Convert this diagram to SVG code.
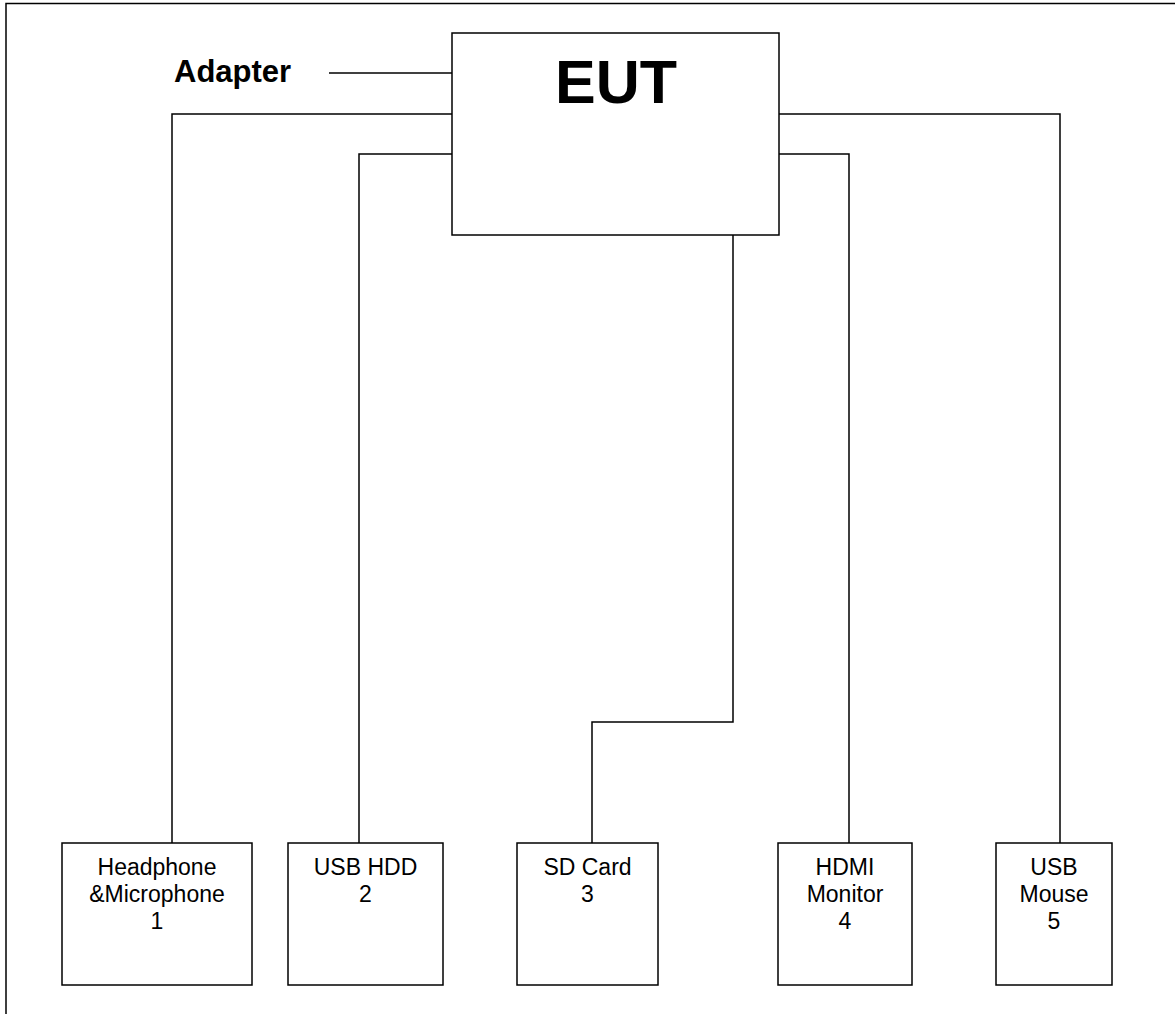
<svg xmlns="http://www.w3.org/2000/svg" width="1175" height="1014" viewBox="0 0 1175 1014">
<style>
.box{fill:#fff;stroke:#000;stroke-width:1.5}
.wire{fill:none;stroke:#000;stroke-width:1.5}
.lbl{font-family:"Liberation Sans",Arial,sans-serif;font-size:23px;fill:#000;text-anchor:middle}
.bold{font-family:"Liberation Sans",Arial,sans-serif;font-weight:bold;fill:#000}
</style>
<rect width="1175" height="1014" fill="#fff"/>
<g id="frame">
<path class="wire" d="M1175,3.5 H6 V1014"/>
</g>
<g id="connectors">
<path class="wire" d="M329,73 H452"/>
<path class="wire" d="M452,114 H172 V843"/>
<path class="wire" d="M452,154 H359 V843"/>
<path class="wire" d="M733,235 V722 H592 V843"/>
<path class="wire" d="M779,154 H849 V843"/>
<path class="wire" d="M779,114 H1060 V843"/>
</g>
<g id="adapter">
<text class="bold" x="174" y="82" font-size="31">Adapter</text>
</g>
<g id="eut">
<rect class="box" x="452" y="33" width="327" height="202"/>
<text class="bold" x="616" y="103" font-size="61" text-anchor="middle">EUT</text>
</g>
<g id="node1">
<rect class="box" x="62" y="843" width="190" height="142"/>
<text class="lbl" x="157" y="875">Headphone</text>
<text class="lbl" x="157" y="902">&amp;Microphone</text>
<text class="lbl" x="157" y="929">1</text>
</g>
<g id="node2">
<rect class="box" x="288" y="843" width="155" height="142"/>
<text class="lbl" x="365.5" y="875">USB HDD</text>
<text class="lbl" x="365.5" y="902">2</text>
</g>
<g id="node3">
<rect class="box" x="517" y="843" width="141" height="142"/>
<text class="lbl" x="587.5" y="875">SD Card</text>
<text class="lbl" x="587.5" y="902">3</text>
</g>
<g id="node4">
<rect class="box" x="778" y="843" width="134" height="142"/>
<text class="lbl" x="845" y="875">HDMI</text>
<text class="lbl" x="845" y="902">Monitor</text>
<text class="lbl" x="845" y="929">4</text>
</g>
<g id="node5">
<rect class="box" x="996" y="843" width="116" height="142"/>
<text class="lbl" x="1054" y="875">USB</text>
<text class="lbl" x="1054" y="902">Mouse</text>
<text class="lbl" x="1054" y="929">5</text>
</g>
</svg>
